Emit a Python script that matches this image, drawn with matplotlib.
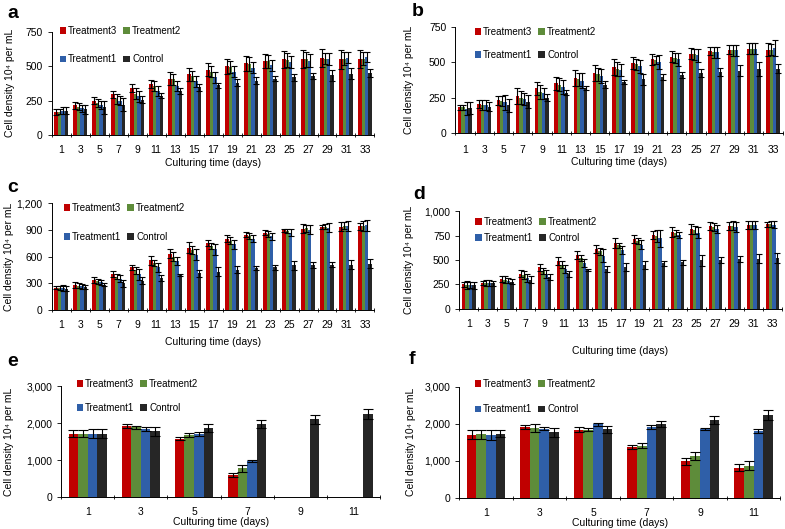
import numpy as np
import matplotlib
matplotlib.use('Agg')
import matplotlib.pyplot as plt
from matplotlib.ticker import FuncFormatter
from matplotlib.transforms import blended_transform_factory

plt.rcParams['font.family'] = ['Liberation Sans', 'DejaVu Sans']
plt.rcParams['font.size'] = 7.5

series = ['Treatment3', 'Treatment2', 'Treatment1', 'Control']
colors = ['#c00000', '#5e8c3a', '#2f5fa8', '#262626']

days_long = [1, 3, 5, 7, 9, 11, 13, 15, 17, 19, 21, 23, 25, 27, 29, 31, 33]
days_short = [1, 3, 5, 7, 9, 11]

# panel a
a_t3 = [165, 215, 250, 295, 340, 370, 410, 440, 475, 500, 520, 540, 550, 550, 560, 550, 555]
a_t2 = [170, 205, 230, 260, 300, 355, 405, 430, 460, 495, 515, 535, 545, 550, 555, 555, 555]
a_t1 = [175, 195, 215, 250, 280, 320, 355, 390, 420, 460, 490, 505, 530, 540, 550, 560, 565]
a_c = [175, 185, 200, 220, 255, 285, 320, 345, 360, 380, 395, 410, 420, 430, 435, 445, 450]
a_t3_err = [20, 25, 25, 25, 30, 30, 45, 45, 45, 55, 55, 50, 60, 65, 65, 70, 65]
a_t2_err = [20, 25, 30, 35, 40, 35, 40, 35, 40, 45, 50, 45, 50, 55, 40, 50, 45]
a_t1_err = [25, 25, 30, 35, 40, 35, 35, 40, 40, 40, 40, 40, 40, 45, 45, 40, 35]
a_c_err = [25, 30, 45, 45, 25, 20, 20, 25, 20, 25, 25, 20, 25, 20, 40, 40, 30]

# panel b
b_t3 = [180, 205, 230, 260, 315, 350, 390, 425, 465, 495, 520, 540, 560, 580, 590, 595, 590]
b_t2 = [180, 200, 225, 250, 290, 340, 380, 415, 450, 485, 515, 530, 555, 570, 585, 595, 590]
b_t1 = [170, 195, 215, 240, 280, 325, 370, 405, 445, 470, 500, 520, 550, 570, 585, 595, 600]
b_c = [175, 185, 195, 220, 250, 285, 320, 340, 360, 380, 395, 410, 425, 430, 440, 450, 455]
b_t3_err = [20, 30, 30, 55, 45, 45, 55, 55, 55, 45, 40, 40, 40, 30, 35, 40, 45]
b_t2_err = [20, 35, 35, 45, 50, 45, 45, 45, 50, 40, 30, 35, 40, 40, 40, 40, 40]
b_t1_err = [45, 35, 50, 45, 40, 50, 55, 50, 45, 45, 50, 45, 45, 40, 40, 40, 55]
b_c_err = [45, 30, 45, 45, 25, 20, 15, 25, 15, 40, 20, 20, 30, 30, 40, 50, 30]

# panel c
c_t3 = [250, 280, 335, 405, 480, 560, 630, 700, 750, 800, 845, 870, 895, 915, 935, 935, 940]
c_t2 = [245, 275, 320, 375, 445, 530, 600, 670, 720, 780, 830, 855, 890, 920, 935, 945, 945]
c_t1 = [245, 265, 310, 350, 400, 480, 555, 620, 680, 740, 800, 830, 870, 900, 925, 945, 950]
c_c = [240, 260, 285, 300, 330, 360, 390, 410, 430, 450, 470, 480, 500, 505, 510, 510, 520]
c_t3_err = [15, 30, 30, 30, 30, 50, 50, 60, 35, 40, 30, 25, 20, 50, 20, 50, 40]
c_t2_err = [20, 25, 25, 30, 40, 35, 50, 45, 30, 35, 30, 30, 20, 40, 30, 40, 60]
c_t1_err = [35, 25, 30, 40, 60, 50, 45, 60, 60, 50, 40, 40, 40, 50, 50, 60, 60]
c_c_err = [30, 20, 20, 40, 40, 30, 10, 40, 50, 40, 20, 30, 50, 30, 30, 50, 50]

# panel d
d_t3 = [250, 265, 310, 360, 425, 490, 550, 615, 670, 715, 755, 790, 820, 845, 850, 860, 865]
d_t2 = [245, 265, 300, 345, 390, 450, 520, 590, 650, 690, 745, 775, 805, 835, 850, 860, 865]
d_t1 = [245, 265, 290, 320, 360, 405, 470, 545, 600, 655, 720, 755, 780, 820, 840, 855, 860]
d_c = [240, 260, 280, 300, 330, 360, 395, 410, 430, 445, 465, 475, 495, 500, 510, 515, 520]
d_t3_err = [30, 25, 30, 35, 35, 40, 40, 40, 50, 45, 40, 50, 50, 40, 40, 40, 25]
d_t2_err = [40, 35, 35, 40, 30, 35, 35, 35, 25, 30, 60, 30, 40, 40, 45, 40, 30]
d_t1_err = [30, 30, 30, 40, 40, 40, 40, 70, 40, 45, 85, 30, 60, 40, 50, 40, 35]
d_c_err = [35, 30, 30, 40, 30, 30, 10, 30, 40, 40, 25, 30, 55, 30, 30, 50, 50]

# panel e
e_t3 = [1720, 1920, 1580, 600, np.nan, np.nan]
e_t2 = [1720, 1890, 1690, 780, np.nan, np.nan]
e_t1 = [1720, 1840, 1710, 970, np.nan, np.nan]
e_c = [1720, 1780, 1870, 1980, 2100, 2240]
e_t3_err = [100, 50, 40, 60, np.nan, np.nan]
e_t2_err = [100, 40, 50, 100, np.nan, np.nan]
e_t1_err = [120, 50, 60, 30, np.nan, np.nan]
e_c_err = [120, 120, 100, 100, 120, 130]

# panel f
f_t3 = [1700, 1920, 1840, 1370, 980, 810]
f_t2 = [1710, 1880, 1840, 1410, 1130, 870]
f_t1 = [1690, 1860, 1980, 1910, 1860, 1810]
f_c = [1730, 1770, 1850, 1990, 2100, 2240]
f_t3_err = [120, 50, 70, 60, 100, 90]
f_t2_err = [110, 110, 40, 70, 110, 110]
f_t1_err = [130, 40, 50, 60, 30, 60]
f_c_err = [100, 120, 100, 90, 120, 130]

# letter, axes rect, x, values, errors, ymax, ystep, capsize,
# letter pos, legend anchor, legend row spacing, tick pad, xlabel pad, ylabel x (fig)
panels = [
    ('a', [0.066, 0.745, 0.411, 0.195], days_long, [a_t3, a_t2, a_t1, a_c],
     [a_t3_err, a_t2_err, a_t1_err, a_c_err], 750, 250, 2.5,
     (0.009, 0.975), (0.0758, 0.951), 1.9, 7.5, 2, 0.013),
    ('b', [0.580, 0.749, 0.417, 0.200], days_long, [b_t3, b_t2, b_t1, b_c],
     [b_t3_err, b_t2_err, b_t1_err, b_c_err], 750, 250, 2.5,
     (0.525, 0.979), (0.6045, 0.949), 1.37, 8.5, 2, 0.521),
    ('c', [0.066, 0.414, 0.411, 0.202], days_long, [c_t3, c_t2, c_t1, c_c],
     [c_t3_err, c_t2_err, c_t1_err, c_c_err], 1200, 300, 2.5,
     (0.009, 0.646), (0.0809, 0.616), 1.9, 7.5, 5, 0.012),
    ('d', [0.585, 0.416, 0.411, 0.185], days_long, [d_t3, d_t2, d_t1, d_c],
     [d_t3_err, d_t2_err, d_t1_err, d_c_err], 1000, 250, 2.5,
     (0.526, 0.633), (0.6057, 0.590), 0.65, 7.5, 12, 0.521),
    ('e', [0.078, 0.060, 0.406, 0.210], days_short, [e_t3, e_t2, e_t1, e_c],
     [e_t3_err, e_t2_err, e_t1_err, e_c_err], 3000, 1000, 3.5,
     (0.009, 0.316), (0.0975, 0.2836), 1.47, 7, 0, 0.012),
    ('f', [0.585, 0.059, 0.409, 0.210], days_short, [f_t3, f_t2, f_t1, f_c],
     [f_t3_err, f_t2_err, f_t1_err, f_c_err], 3000, 1000, 3.5,
     (0.521, 0.320), (0.6045, 0.2836), 1.58, 7, 0, 0.523),
]

fig = plt.figure(figsize=(7.85, 5.29), dpi=100)
thousands = FuncFormatter(lambda v, p: '{:,.0f}'.format(v))
w = 0.18

for (letter, rect, days, vals, errs, ymax, ystep, cap,
     lpos, lanchor, lspace, tpad, xpad, ylx) in panels:
    ax = fig.add_axes(rect)
    x = np.arange(len(days))
    bars = []
    for i in range(4):
        b = ax.bar(x + (i - 1.5) * w, vals[i], w, color=colors[i], label=series[i],
                   yerr=errs[i], capsize=cap,
                   error_kw=dict(elinewidth=0.8, capthick=0.8, ecolor='black'))
        bars.append(b)
    ax.set_xlim(-0.5, len(days) - 0.5)
    ax.set_ylim(0, ymax)
    ax.set_yticks(np.arange(0, ymax + 1, ystep))
    ax.yaxis.set_major_formatter(thousands)
    ax.set_xticks(x)
    ax.set_xticklabels([str(d) for d in days])
    ax.set_xticks(np.arange(len(days) + 1) - 0.5, minor=True)
    ax.tick_params(axis='x', which='major', length=0, pad=tpad)
    ax.tick_params(axis='x', which='minor', length=3, direction='inout', width=0.6)
    ax.tick_params(axis='y', length=3, width=0.6, direction='out')
    for s in ['top', 'right']:
        ax.spines[s].set_visible(False)
    for s in ['left', 'bottom']:
        ax.spines[s].set_linewidth(0.7)
    ax.set_xlabel('Culturing time (days)', fontsize=7.5, labelpad=xpad)
    ax.set_ylabel('Cell density 10\u2074 per mL', fontsize=7.5, va='center')
    ax.yaxis.set_label_coords(ylx, 0.5,
                              transform=blended_transform_factory(fig.transFigure, ax.transAxes))
    # legend rows: Treatment3, Treatment2 / Treatment1, Control
    order = [0, 2, 1, 3]
    ax.legend([bars[k] for k in order], [series[k] for k in order], ncol=2,
              loc='upper left', bbox_to_anchor=lanchor, bbox_transform=fig.transFigure,
              frameon=False, borderpad=0, borderaxespad=0,
              handlelength=0.7, handleheight=0.7, handletextpad=0.2,
              columnspacing=0.6, labelspacing=lspace, fontsize=7)
    fig.text(lpos[0], lpos[1], letter, fontsize=14, fontweight='bold',
             va='center', ha='left')

fig.savefig('out.png', dpi=100)
